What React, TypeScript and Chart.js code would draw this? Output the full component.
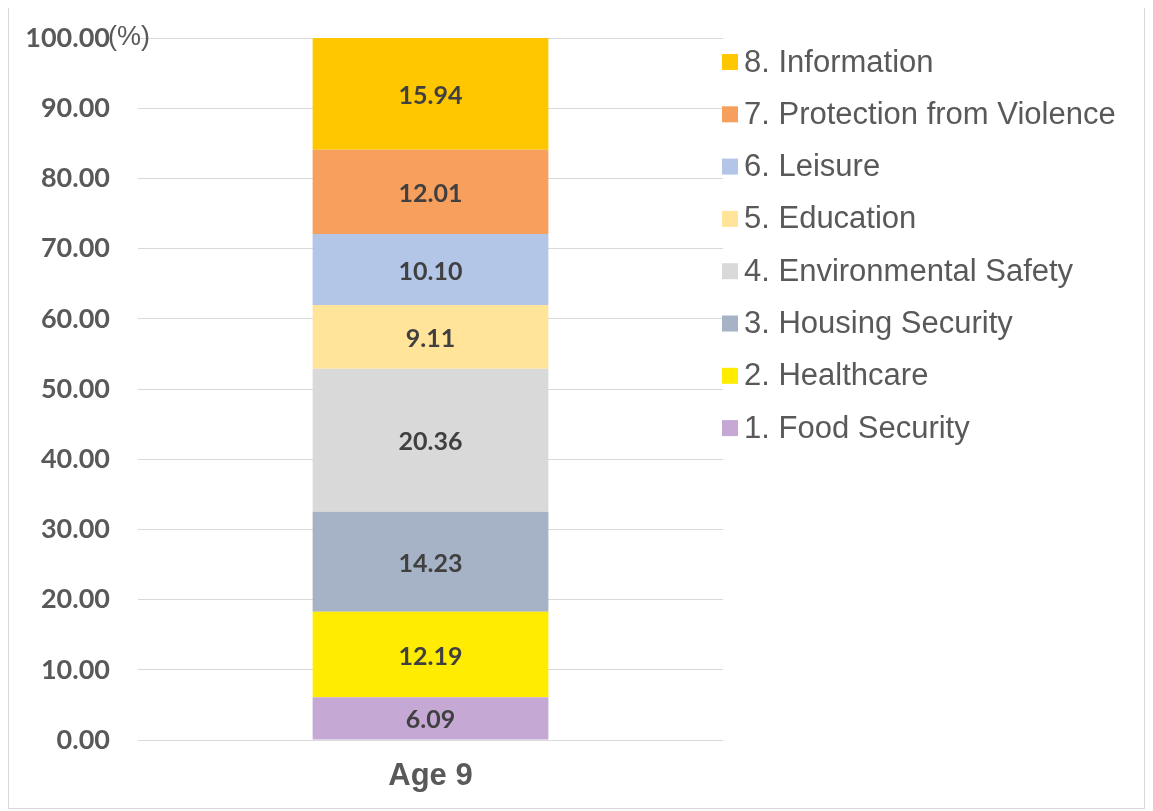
import React, { useEffect, useRef } from "react";
import { Chart, registerables } from "chart.js";

Chart.register(...registerables);

const categories = ["Age 9"];
const seriesLabels = [
  "1. Food Security",
  "2. Healthcare",
  "3. Housing Security",
  "4. Environmental Safety",
  "5. Education",
  "6. Leisure",
  "7. Protection from Violence",
  "8. Information",
];
const seriesValues = [6.09, 12.19, 14.23, 20.36, 9.11, 10.1, 12.01, 15.94];
const seriesColors = [
  "#C5A8D4",
  "#FFEC00",
  "#A6B2C6",
  "#D9D9D9",
  "#FFE49A",
  "#B4C6E7",
  "#F7A05E",
  "#FFC700",
];
const yTicks = [0, 10, 20, 30, 40, 50, 60, 70, 80, 90, 100];
const unitLabel = "(%)";

const valueLabelsPlugin = {
  id: "valueLabels",
  afterDatasetsDraw(chart: any) {
    const ctx = chart.ctx;
    ctx.save();
    ctx.font = "700 25px Lato";
    ctx.fillStyle = "#404040";
    ctx.textAlign = "center";
    ctx.textBaseline = "middle";
    chart.data.datasets.forEach((ds: any, i: number) => {
      const meta = chart.getDatasetMeta(i);
      meta.data.forEach((el: any, j: number) => {
        const v = ds.data[j];
        const yc = (el.y + el.base) / 2;
        ctx.fillText(Number(v).toFixed(2), el.x, yc + 2);
      });
    });
    ctx.restore();
  },
};

const extrasPlugin = {
  id: "extras",
  afterDraw(chart: any) {
    const ctx = chart.ctx;
    const area = chart.chartArea;
    const yScale = chart.scales.y;
    ctx.save();
    // unit label next to top tick
    ctx.font = "400 27px 'Liberation Sans'";
    ctx.fillStyle = "#595959";
    ctx.textAlign = "left";
    ctx.textBaseline = "middle";
    ctx.fillText(unitLabel, 99, yScale.getPixelForValue(100));
    // legend (reverse order)
    const n = chart.data.datasets.length;
    ctx.font = "400 31px 'Liberation Sans'";
    for (let k = 0; k < n; k++) {
      const i = n - 1 - k;
      const ds = chart.data.datasets[i];
      const cy = area.top + 24 + k * 52.3;
      ctx.fillStyle = ds.backgroundColor;
      ctx.fillRect(area.right - 1, cy - 8, 16, 16);
      ctx.fillStyle = "#595959";
      ctx.fillText(ds.label, area.right + 21, cy + 1);
    }
    ctx.restore();
  },
};

export default function App() {
  const ref = useRef<HTMLCanvasElement | null>(null);
  useEffect(() => {
    if (!ref.current) return;
    const chart = new Chart(ref.current, {
      type: "bar",
      data: {
        labels: categories,
        datasets: seriesLabels.map((label, i) => ({
          label,
          data: [seriesValues[i]],
          backgroundColor: seriesColors[i],
          borderWidth: 0,
          barPercentage: 1,
          categoryPercentage: 0.403,
        })),
      },
      options: {
        responsive: false,
        animation: false,
        layout: { padding: { top: 30, right: 421, left: 0, bottom: 0 } },
        plugins: {
          legend: { display: false },
          tooltip: { enabled: false },
        },
        scales: {
          x: {
            stacked: true,
            grid: { display: false },
            border: { display: false },
            ticks: {
              color: "#595959",
              font: { family: "'Liberation Sans'", size: 31, weight: "bold" },
              padding: 10,
            },
            afterFit(scale: any) {
              scale.height = 68;
            },
          },
          y: {
            stacked: true,
            min: 0,
            max: 100,
            afterBuildTicks(scale: any) {
              scale.ticks = yTicks.map((v) => ({ value: v }));
            },
            grid: { color: "#D9D9D9", lineWidth: 1, drawTicks: false },
            border: { display: false },
            ticks: {
              color: "#595959",
              font: { family: "Lato", size: 27, weight: "bold" },
              padding: 28,
              callback: (v: any) => Number(v).toFixed(2),
            },
            afterFit(scale: any) {
              scale.width = 129;
              scale.paddingTop = 0;
              scale.paddingBottom = 0;
            },
          },
        },
      },
      plugins: [valueLabelsPlugin, extrasPlugin],
    });
    return () => chart.destroy();
  }, []);
  return (
    <div
      style={{
        width: 1137,
        height: 802,
        border: "1px solid #D9D9D9",
        boxSizing: "border-box",
        marginTop: -1,
        background: "#fff",
      }}
    >
      <canvas ref={ref} width={1135} height={800} style={{ display: "block" }} />
    </div>
  );
}
